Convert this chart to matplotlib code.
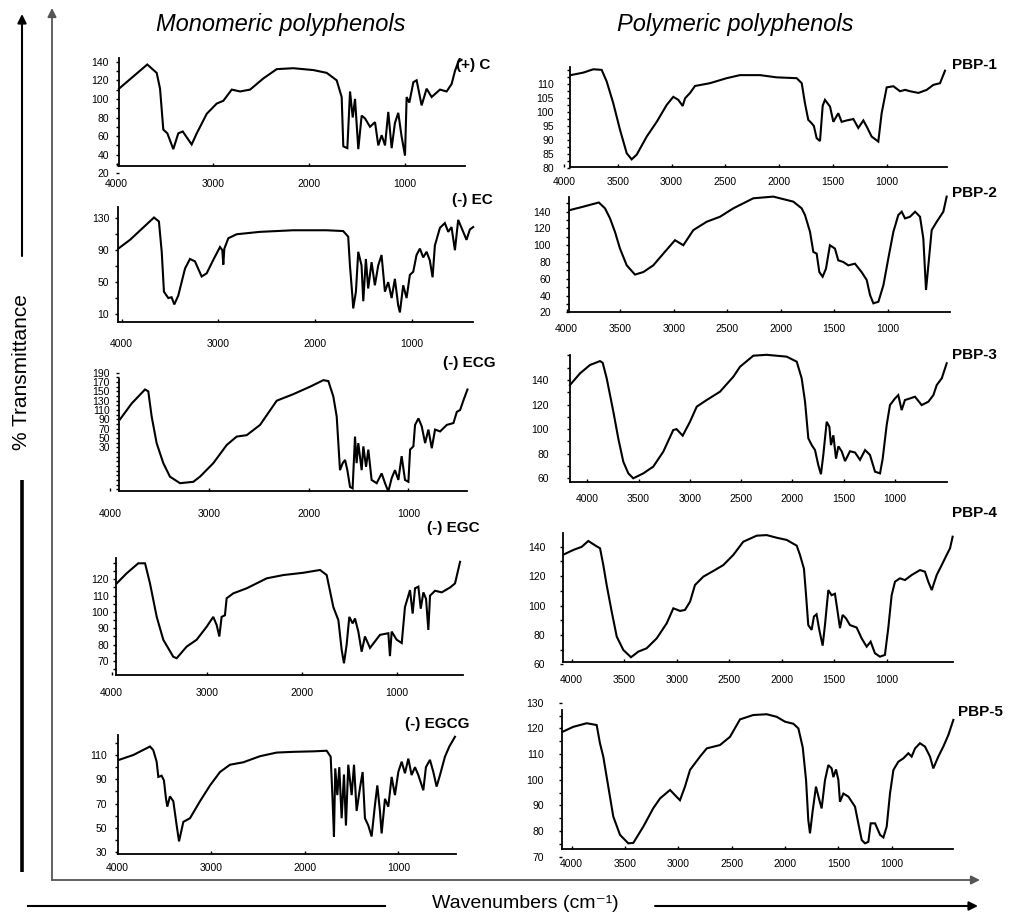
import matplotlib
matplotlib.use("Agg")
import matplotlib.pyplot as plt
from matplotlib.ticker import AutoMinorLocator

W, H = 1013, 916
plt.rcParams["font.family"] = ["Liberation Sans", "DejaVu Sans"]

# ---------------- spectra (wavenumber cm-1, % transmittance) ----------------
c_wn = [3976, 3682, 3584, 3549, 3515, 3473, 3411, 3359, 3313, 3220, 3167, 3063, 2959, 2890,
        2803, 2716, 2612, 2474, 2335, 2162, 1954, 1815, 1711, 1659, 1642, 1600, 1572, 1544,
        1520, 1486, 1451, 1416, 1364, 1312, 1278, 1243, 1208, 1174, 1139, 1105, 1070, 1036,
        1000, 983, 955, 913, 879, 827, 775, 723, 636, 567, 515, 480, 445, 411]
c_t = [111, 137, 128, 111, 67, 63, 46, 63, 65, 51, 63, 84, 95, 98, 110, 108, 110, 122, 132,
       133, 131, 128, 120, 102, 49, 47, 108, 80, 100, 46, 82, 79, 70, 75, 50, 61, 50, 86, 47,
       74, 85, 60, 39, 102, 96, 118, 120, 93, 111, 102, 110, 108, 116, 130, 140, 142]

ec_wn = [4035, 3914, 3666, 3615, 3586, 3563, 3518, 3484, 3456, 3415, 3345, 3294, 3242, 3173,
         3121, 3052, 2983, 2959, 2949, 2938, 2897, 2811, 2570, 2226, 1881, 1709, 1657, 1639,
         1612, 1605, 1577, 1553, 1519, 1501, 1474, 1450, 1415, 1381, 1346, 1312, 1277, 1243,
         1208, 1174, 1140, 1122, 1088, 1053, 1019, 984, 950, 915, 881, 846, 812, 784, 760,
         708, 657, 622, 588, 553, 519, 467, 433, 398, 364]
ec_t = [92, 103, 131, 126, 88, 38, 30, 31, 22, 33, 67, 79, 76, 57, 61, 78, 94, 90, 72, 92,
        105, 110, 113, 115, 115, 114, 107, 71, 30, 17, 38, 88, 71, 26, 79, 42, 75, 46, 71, 84,
        38, 50, 30, 54, 21, 12, 46, 30, 59, 63, 84, 92, 81, 88, 77, 56, 96, 118, 124, 113,
        119, 90, 128, 113, 103, 116, 119]

ecg_wn = [3899, 3782, 3648, 3615, 3581, 3531, 3464, 3397, 3296, 3162, 3095, 2961, 2826, 2726,
          2625, 2491, 2323, 2156, 1988, 1854, 1804, 1754, 1720, 1687, 1660, 1636, 1613, 1586,
          1560, 1536, 1520, 1503, 1469, 1452, 1425, 1402, 1369, 1318, 1268, 1234, 1201, 1167,
          1134, 1100, 1067, 1033, 999, 982, 949, 932, 898, 865, 831, 798, 764, 731, 680, 613,
          546, 512, 479, 445, 405]
ecg_t = [90, 124, 154, 150, 96, 39, -4, -33, -47, -44, -33, -4, 35, 53, 56, 78, 130, 144, 160,
         174, 172, 139, 96, -19, -4, 3, -19, -55, -58, 53, -4, 39, -19, 32, -12, 25, -40, -47,
         -26, -47, -65, -36, -19, -40, 11, -40, -44, 25, 32, 78, 92, 75, 39, 68, 28, 68, 64,
         78, 82, 106, 110, 131, 154]

egc_wn = [3947, 3842, 3720, 3649, 3597, 3526, 3457, 3352, 3316, 3211, 3106, 3000, 2931, 2895,
          2867, 2843, 2808, 2790, 2720, 2579, 2368, 2193, 1983, 1807, 1737, 1667, 1614, 1579,
          1555, 1527, 1499, 1464, 1439, 1404, 1369, 1334, 1281, 1176, 1088, 1071, 1053, 1000,
          947, 913, 860, 832, 807, 772, 747, 719, 691, 667, 649, 596, 526, 438, 386, 333]
egc_t = [117.5, 123.7, 129.8, 129.8, 117.5, 97, 83, 72.6, 71.7, 78.8, 83, 91, 97, 92, 85, 97,
         98, 108.4, 111.4, 114.5, 120.6, 122.6, 124, 125.7, 122.6, 103, 95, 76.7, 68.6, 80, 97,
         93, 96, 88, 75.7, 85, 78, 86, 87, 73, 88, 83, 81, 103, 113.4, 99, 114.5, 115.5, 102,
         112, 108, 89, 110, 113, 112, 115, 117.5, 130.7]

egcg_wn = [3982, 3829, 3651, 3616, 3580, 3562, 3527, 3502, 3480, 3466, 3438, 3402, 3366, 3341,
           3295, 3224, 3117, 3010, 2904, 2797, 2655, 2477, 2298, 2121, 1908, 1765, 1722, 1701,
           1687, 1673, 1651, 1630, 1605, 1580, 1559, 1534, 1498, 1473, 1445, 1409, 1381, 1356,
           1320, 1285, 1249, 1224, 1196, 1178, 1142, 1107, 1071, 1036, 1000, 964, 929, 893,
           858, 822, 786, 733, 705, 662, 626, 591, 555, 502, 455, 395]
egcg_t = [106, 110, 117, 114, 104.5, 92, 93, 89, 74, 67.5, 76, 72, 52, 39, 55, 58, 72, 85, 96,
          102, 104, 109, 112, 112.6, 113, 113.5, 108.6, 72, 43, 99, 77, 100, 58, 94, 52, 102,
          77, 102, 64, 83, 96, 58, 52, 43, 69, 85, 64, 45.5, 74, 67.5, 92, 77, 96, 104.5, 95,
          107, 93.5, 100, 93.5, 81, 100, 106, 96, 84, 93.5, 108.6, 117, 125]

p1_wn = [3938, 3821, 3728, 3650, 3603, 3542, 3479, 3417, 3371, 3324, 3231, 3138, 3045, 2984,
         2937, 2897, 2874, 2828, 2782, 2643, 2488, 2364, 2178, 2023, 1837, 1790, 1760, 1729,
         1698, 1677, 1651, 1620, 1595, 1574, 1527, 1496, 1450, 1419, 1372, 1310, 1264, 1217,
         1186, 1140, 1078, 1047, 1000, 938, 876, 829, 783, 705, 628, 566, 504, 458]
p1_t = [113.3, 114.2, 115.4, 115.2, 111, 103.2, 93.6, 85.2, 83, 84.7, 91.2, 96.5, 102.6, 105.5,
        104.4, 102.2, 105, 106.9, 109.4, 110.4, 112.2, 113.3, 113.3, 112.5, 112.2, 110.4, 103.2,
        97.2, 96, 95, 90.6, 89.6, 102.3, 104.4, 102, 96.5, 99.6, 96.5, 97, 97.5, 94.3, 97, 94.8,
        91.2, 89.4, 99.6, 108.9, 109.3, 107.5, 108, 107.5, 106.9, 108, 109.8, 110.4, 114.9]

p2_wn = [3969, 3845, 3700, 3642, 3595, 3549, 3502, 3439, 3362, 3284, 3191, 3097, 2988, 2910,
         2817, 2692, 2567, 2443, 2256, 2069, 1882, 1804, 1773, 1726, 1695, 1664, 1639, 1608,
         1577, 1540, 1493, 1462, 1415, 1368, 1306, 1244, 1196, 1165, 1134, 1087, 1040, 994,
         947, 901, 869, 838, 791, 744, 698, 667, 642, 620, 589, 542, 480, 449]
p2_t = [142, 146, 151, 144, 132, 116, 96, 76, 65, 68, 76, 90, 106, 100, 118, 128, 134, 144,
        156, 158, 152, 144, 136, 116, 92, 90, 68, 62.5, 72, 100, 96, 82, 80, 76, 78, 68, 58.5,
        40.6, 30.7, 32.6, 52.4, 84.4, 116, 136, 140, 132, 134, 140, 134, 108, 46.6, 76, 118,
        128, 140, 158]

p3_wn = [4169, 4071, 3974, 3876, 3850, 3811, 3746, 3698, 3649, 3600, 3552, 3454, 3357, 3259,
         3162, 3130, 3070, 2999, 2933, 2836, 2706, 2576, 2511, 2381, 2251, 2056, 1958, 1910,
         1877, 1845, 1812, 1780, 1748, 1722, 1699, 1666, 1640, 1624, 1601, 1575, 1552, 1520,
         1487, 1439, 1390, 1341, 1292, 1244, 1195, 1146, 1120, 1081, 1049, 1000, 968, 935,
         903, 854, 805, 740, 675, 626, 593, 544, 496]
p3_t = [135.9, 145.4, 152.2, 155.4, 154, 141.4, 114.2, 92.5, 73.5, 64, 60, 64, 69.5, 81.7,
        99.3, 100, 94.7, 106, 118.3, 123.7, 130.5, 142.7, 150.8, 159.8, 160.5, 159, 154.9,
        141.4, 122.3, 92.5, 87, 83, 70.8, 63.3, 79, 106, 102, 87, 95, 76, 86, 82, 74, 82, 81,
        75, 83, 79, 65.4, 64, 76, 103.4, 119.6, 125, 127.7, 115.5, 123.7, 125, 126.4, 119.6,
        122.3, 127.7, 135.9, 141.4, 153.6]

p4_wn = [4073, 3984, 3905, 3842, 3779, 3730, 3699, 3667, 3619, 3571, 3508, 3435, 3366, 3286,
         3190, 3095, 3032, 2968, 2921, 2873, 2826, 2747, 2651, 2556, 2461, 2366, 2238, 2143,
         2048, 1952, 1857, 1826, 1788, 1768, 1747, 1715, 1693, 1668, 1642, 1610, 1588, 1556,
         1525, 1493, 1470, 1445, 1420, 1388, 1350, 1286, 1239, 1191, 1153, 1112, 1064, 1017,
         985, 953, 921, 874, 826, 763, 683, 636, 604, 571, 524, 476, 429, 397, 372]
p4_t = [134.8, 137.8, 139.9, 143.9, 141, 138.9, 127.5, 113.9, 95.8, 78.8, 69.7, 64.8, 68.6,
        70.9, 77.7, 87.9, 98.1, 96.3, 97, 102.6, 113.9, 119.6, 123.5, 127.5, 134.4, 143.4,
        147.5, 147.9, 146.1, 144.6, 140.7, 134.4, 125, 107, 86.7, 83.4, 92.5, 94, 83.4, 72.7,
        86.7, 110.5, 107, 108, 97, 84.6, 93.6, 91.3, 86.7, 85, 77.7, 72, 75.4, 67.5, 65.2,
        66.4, 84.6, 107, 116.2, 118.5, 117.3, 120.7, 124.1, 123, 116.2, 110.5, 120.7, 127.5,
        134.4, 138.9, 146.8]

p5_wn = [4084, 3985, 3859, 3766, 3735, 3704, 3657, 3610, 3547, 3469, 3422, 3329, 3235, 3172,
         3078, 3032, 2985, 2938, 2891, 2797, 2734, 2610, 2516, 2422, 2298, 2172, 2078, 2000,
         1922, 1875, 1834, 1803, 1782, 1766, 1741, 1710, 1678, 1657, 1625, 1594, 1563, 1547,
         1522, 1500, 1485, 1453, 1406, 1344, 1313, 1281, 1250, 1219, 1197, 1156, 1109, 1078,
         1047, 1016, 984, 938, 891, 844, 813, 781, 735, 688, 641, 610, 563, 516, 469, 422]
p5_t = [118.7, 120.6, 122, 121.3, 114.2, 109, 97.3, 85.6, 78.5, 75.2, 75.4, 81.7, 88.9, 92.7,
        96, 94, 92, 97.3, 103.8, 109, 112.2, 113.5, 116.7, 123.5, 125.2, 125.5, 124.5, 122.6,
        121.8, 120, 112.6, 99.9, 84.3, 79.1, 87.8, 97.3, 92, 88.8, 99.9, 105.7, 104.4, 101,
        104, 99.9, 91.4, 94.6, 93.4, 89.5, 83, 76.5, 75.2, 75.8, 83, 83, 78.5, 77.5, 81.7,
        94.6, 103.8, 107, 108.3, 110.3, 109, 112.2, 114.2, 112.9, 109, 104.4, 109, 112.9,
        117.4, 123.3]

# ---------------- tick labels ----------------
left_xticks = [4000, 3000, 2000, 1000]
right_xticks = [4000, 3500, 3000, 2500, 2000, 1500, 1000]
c_yticks = [20, 40, 60, 80, 100, 120, 140]
ec_yticks = [10, 50, 90, 130]
ecg_yticks = [30, 50, 70, 90, 110, 130, 150, 170, 190]
egc_yticks = [70, 80, 90, 100, 110, 120]
egcg_yticks = [30, 50, 70, 90, 110]
p1_yticks = [80, 85, 90, 95, 100, 105, 110]
p2_yticks = [20, 40, 60, 80, 100, 120, 140]
p3_yticks = [60, 80, 100, 120, 140]
p4_yticks = [60, 80, 100, 120, 140]
p5_yticks = [70, 80, 90, 100, 110, 120, 130]

# ---------------- panel geometry (pixels of the 1013 x 916 picture) ----------------
# axx/axy: where the y and x axis lines sit, xend: right end of x axis, ytop: top of y axis
# ycal / xcal: two tick values and the pixel where each label sits
PANELS = [
    dict(label="(+) C", wn=c_wn, t=c_t, yt=c_yticks, xt=left_xticks, axx=119, xend=465,
         ytop=58, axy=165.7, ycal=(140, 61.7, 20, 173.3), xcal=(4000, 116.7, 1000, 405),
         lab=(456, 65), ygap=9, xoff=17.3),
    dict(label="(-) EC", wn=ec_wn, t=ec_t, yt=ec_yticks, xt=left_xticks, axx=118.3, xend=473.3,
         ytop=206.7, axy=321.7, ycal=(130, 218.3, 10, 314), xcal=(4000, 121.7, 1000, 411.7),
         lab=(452, 200), ygap=8, xoff=21.3),
    dict(label="(-) ECG", wn=ecg_wn, t=ecg_t, yt=ecg_yticks, xt=left_xticks, axx=119.3,
         xend=466.7, ytop=379.3, axy=490.7, ycal=(190, 372.7, 30, 447.3),
         xcal=(4000, 110, 1000, 408.3), lab=(443, 362.7), ygap=8.6, xoff=22.6),
    dict(label="(-) EGC", wn=egc_wn, t=egc_t, yt=egc_yticks, xt=left_xticks, axx=116,
         xend=463.3, ytop=558.3, axy=675, ycal=(120, 579.3, 70, 661),
         xcal=(4000, 111.7, 1000, 396.7), lab=(426.7, 528), ygap=6, xoff=16.7),
    dict(label="(-) EGCG", wn=egcg_wn, t=egcg_t, yt=egcg_yticks, xt=left_xticks, axx=118.3,
         xend=456, ytop=735, axy=854.3, ycal=(110, 755, 30, 852.3),
         xcal=(4000, 117.3, 1000, 398.3), lab=(405, 724), ygap=10, xoff=12.4),
    dict(label="PBP-1", wn=p1_wn, t=p1_t, yt=p1_yticks, xt=right_xticks, axx=570, xend=946.7,
         ytop=66.7, axy=166.7, ycal=(110, 84.3, 80, 167.7), xcal=(4000, 564, 1000, 886.7),
         lab=(951.7, 65), ygap=15, xoff=14.3),
    dict(label="PBP-2", wn=p2_wn, t=p2_t, yt=p2_yticks, xt=right_xticks, axx=569, xend=950,
         ytop=196.7, axy=311.7, ycal=(140, 211.7, 20, 312.3), xcal=(4000, 566.7, 1000, 887.7),
         lab=(951.7, 193.3), ygap=17, xoff=16),
    dict(label="PBP-3", wn=p3_wn, t=p3_t, yt=p3_yticks, xt=right_xticks, axx=570, xend=946.7,
         ytop=355, axy=481.7, ycal=(140, 380, 60, 478.3), xcal=(4000, 587.3, 1000, 895),
         lab=(951.7, 355), ygap=20, xoff=16.6),
    dict(label="PBP-4", wn=p4_wn, t=p4_t, yt=p4_yticks, xt=right_xticks, axx=563.3,
         xend=953.3, ytop=533.3, axy=661.7, ycal=(140, 546.7, 60, 664.3),
         xcal=(4000, 571.7, 1000, 886.7), lab=(951.7, 513.3), ygap=17, xoff=17.5),
    dict(label="PBP-5", wn=p5_wn, t=p5_t, yt=p5_yticks, xt=right_xticks, axx=561.7,
         xend=953.3, ytop=710, axy=849.3, ycal=(130, 702.7, 70, 856.7),
         xcal=(4000, 571.7, 1000, 891.7), lab=(958, 711.7), ygap=17, xoff=14),
]


def to_val(cal):
    a, pa, b, pb = cal
    return lambda p: a + (p - pa) * (b - a) / (pb - pa)


def to_pix(cal):
    a, pa, b, pb = cal
    return lambda v: pa + (v - a) * (pb - pa) / (b - a)


def draw_panel(fig, p):
    yv, yp = to_val(p["ycal"]), to_pix(p["ycal"])
    xv, xp = to_val(p["xcal"]), to_pix(p["xcal"])
    left = min(p["axx"], xp(max(p["xt"])) - 1)
    right = p["xend"] + 2
    top = min(p["ytop"], yp(max(p["yt"])) - 1)
    bottom = max(p["axy"], yp(min(p["yt"])) + 1)
    ax = fig.add_axes([left / W, 1 - bottom / H, (right - left) / W, (bottom - top) / H])
    ax.patch.set_visible(False)
    ax.set_xlim(xv(left), xv(right))
    ax.set_ylim(yv(bottom), yv(top))
    ax.plot(p["wn"], p["t"], color="black", lw=1.5, clip_on=False, solid_joinstyle="miter")

    for s in ("top", "right"):
        ax.spines[s].set_visible(False)
    ax.spines["left"].set_position(("data", xv(p["axx"])))
    ax.spines["left"].set_bounds(yv(p["axy"]), yv(p["ytop"]))
    ax.spines["bottom"].set_position(("data", yv(p["axy"])))
    ax.spines["bottom"].set_bounds(xv(p["xend"]), xv(p["axx"]))
    for s in ("left", "bottom"):
        ax.spines[s].set_linewidth(1.3)

    ax.set_yticks(p["yt"])
    ax.set_xticks(p["xt"])
    ax.yaxis.set_minor_locator(AutoMinorLocator(2))
    ax.tick_params(axis="y", which="both", direction="out", length=2.5, width=1,
                   pad=max(p["ygap"] - 2.5, 0.5) * 0.72, labelsize=7.5)
    ax.tick_params(axis="x", which="both", direction="in", length=2, width=1,
                   pad=(p["xoff"] - 4) * 0.72, labelsize=7.5)
    fig.text(p["lab"][0] / W, 1 - p["lab"][1] / H, p["label"], ha="left", va="center",
             fontsize=11, fontweight="bold")


fig = plt.figure(figsize=(W / 100, H / 100), dpi=100)

# frame, arrows and axis titles drawn in pixel coordinates
bg = fig.add_axes([0, 0, 1, 1])
bg.set_xlim(0, W)
bg.set_ylim(H, 0)
bg.axis("off")

frame = dict(arrowstyle="-|>", color="#555555", lw=1.3, mutation_scale=13, shrinkA=0, shrinkB=0)
bg.annotate("", xy=(52, 8), xytext=(52, 880), arrowprops=frame)
bg.annotate("", xy=(980, 880), xytext=(52, 880), arrowprops=frame)

outer = dict(arrowstyle="-|>", color="black", lw=1.5, mutation_scale=13, shrinkA=0, shrinkB=0)
bg.annotate("", xy=(22, 14), xytext=(22, 256), arrowprops=outer)
bg.plot([22, 22], [480, 872], color="black", lw=2.6, solid_capstyle="butt")
bg.plot([28, 385], [906, 906], color="black", lw=1.5)
bg.annotate("", xy=(978, 906), xytext=(655, 906), arrowprops=outer)

bg.text(22, 372, "% Transmittance", rotation=90, ha="center", va="center", fontsize=15)
bg.text(525, 904, "Wavenumbers (cm⁻¹)", ha="center", va="center", fontsize=14)
bg.text(281, 25, "Monomeric polyphenols", ha="center", va="center", fontsize=17, style="italic")
bg.text(735, 25, "Polymeric polyphenols", ha="center", va="center", fontsize=17, style="italic")

for panel in PANELS:
    draw_panel(fig, panel)

fig.savefig("out.png", dpi=100)
